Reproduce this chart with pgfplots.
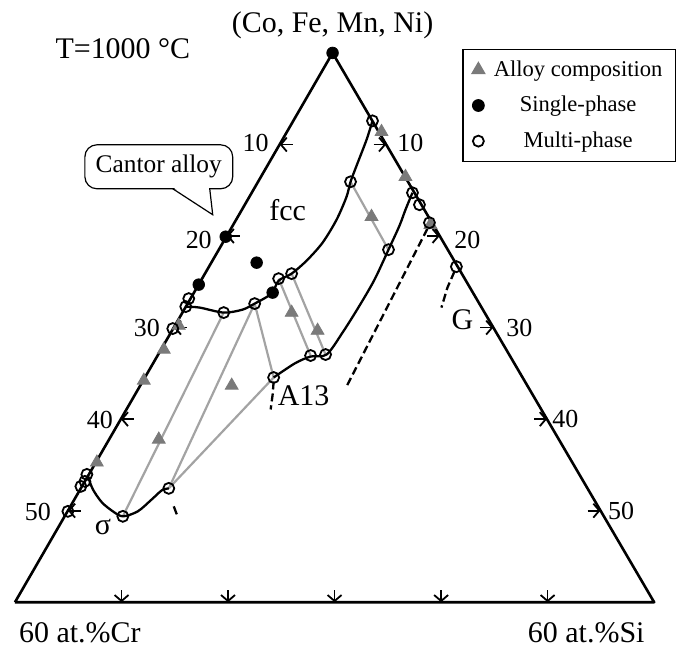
\documentclass[border=0pt]{standalone}
\usepackage{fontspec}
\setmainfont{Liberation Serif}
\usepackage{pgfplots}
\pgfplotsset{compat=1.18}
\usetikzlibrary{arrows.meta}
\definecolor{trigray}{gray}{0.48}
\definecolor{tiegray}{gray}{0.64}
\begin{document}
\begin{tikzpicture}
\begin{axis}[
  width=338pt, height=324pt, scale only axis,
  xmin=0, xmax=676, ymin=0, ymax=648, y dir=reverse,
  hide axis, clip=false,
  legend style={at={(axis cs:463,49)}, anchor=north west, draw=black, line width=0.6pt,
    font=\fontsize{11.3}{13}\selectfont, row sep=4.5pt, column sep=2.5pt, inner xsep=4.5pt, inner ysep=3.5pt},
  legend cell align=center,
  tickarrow/.style={forget plot, black, line width=0.9pt, -{Straight Barb[length=3pt,width=7pt]}},
]
% frame
\addplot[forget plot, black, line width=1.3pt, line join=round] coordinates {(15,603) (333,53) (655,603) (15,603)};
% left ticks
\addplot[tickarrow] coordinates {(293,144.7) (280,144.7)};
\addplot[tickarrow] coordinates {(240,236.3) (227,236.3)};
\addplot[tickarrow] coordinates {(187,328) (174,328)};
\addplot[tickarrow] coordinates {(134,419.7) (121,419.7)};
\addplot[tickarrow] coordinates {(81,511.3) (68,511.3)};
% right ticks
\addplot[tickarrow] coordinates {(374,144.7) (386.7,144.7)};
\addplot[tickarrow] coordinates {(427.5,236.3) (440.3,236.3)};
\addplot[tickarrow] coordinates {(481,328) (494,328)};
\addplot[tickarrow] coordinates {(535,419.7) (547.7,419.7)};
\addplot[tickarrow] coordinates {(588.5,511.3) (601.3,511.3)};
% bottom ticks
\addplot[tickarrow] coordinates {(121.7,591) (121.7,603)};
\addplot[tickarrow] coordinates {(228.3,591) (228.3,603)};
\addplot[tickarrow] coordinates {(335,591) (335,603)};
\addplot[tickarrow] coordinates {(441.7,591) (441.7,603)};
\addplot[tickarrow] coordinates {(548.3,591) (548.3,603)};
% tie lines
\addplot[forget plot, tiegray, line width=1.1pt] coordinates {(351,182) (389,250)};
\addplot[forget plot, tiegray, line width=1.1pt] coordinates {(279,279) (311,356)};
\addplot[forget plot, tiegray, line width=1.1pt] coordinates {(292,274) (326,355)};
\addplot[forget plot, tiegray, line width=1.1pt] coordinates {(255,304) (274,378)};
\addplot[forget plot, tiegray, line width=1.1pt] coordinates {(224,313) (123,517)};
\addplot[forget plot, tiegray, line width=1.1pt] coordinates {(255,304) (169,489)};
\addplot[forget plot, tiegray, line width=1.1pt] coordinates {(274,378) (169,489)};
% phase boundaries
\addplot[forget plot, black, line width=1.15pt, smooth] coordinates {
 (186,307) (200,308) (224,313) (243,310) (255,304) (266,298) (273,293) (279,281) (292,274)
 (307,261) (323,243) (337,220) (347,197) (351,182) (357,166) (367,140) (373,121)};
\addplot[forget plot, black, line width=1.15pt, smooth] coordinates {
 (413,193) (406,210) (400,226) (389,250) (375,280) (360,306) (343,333) (327,355)
 (311,357) (295,364) (274,378)};
\addplot[forget plot, black, line width=1.15pt, smooth] coordinates {
 (88,477) (93,490) (102,503) (113,512) (123,517) (138,512) (152,500) (162,491) (169,489)};
\addplot[forget plot, black, line width=1.15pt] coordinates {(174,507) (177,515)};
\addplot[forget plot, black, line width=1.15pt, dash pattern=on 4pt off 2pt] coordinates {(274,382) (273,395) (271,410)};
\addplot[forget plot, black, line width=1.15pt, dash pattern=on 4pt off 2pt] coordinates {(428,229) (347,387)};
\addplot[forget plot, black, line width=1.15pt, dash pattern=on 4pt off 2pt] coordinates {(455,272) (448,288) (442,308)};
% alloy compositions
\addplot[only marks, mark=triangle*, mark size=3.7pt, mark options={fill=trigray, draw=trigray}] coordinates {
 (382,132) (406,177) (372,217) (431,225) (292,313) (318,331) (179,326) (164,350)
 (144,381) (97,463) (159,440) (232,386)};
\addlegendentry{Alloy composition}
% single phase
\addplot[only marks, mark=*, mark size=2.9pt, mark options={fill=black, draw=black}] coordinates {
 (333,53) (226,237) (199,285) (257,263) (273,293)};
\addlegendentry{Single-phase}
% multi phase
\addplot[only marks, mark=o, mark size=2.75pt, mark options={fill=white, draw=black, line width=0.9pt}] coordinates {
 (373,121) (351,182) (413,193) (420,205) (430,223) (389,250) (457,267)
 (189,299) (186,307) (224,313) (255,304) (279,279) (292,274)
 (311,356) (326,355) (274,378) (173,329)
 (87,475) (85,482) (81,487) (68,512) (123,517) (169,489)};
\addlegendentry{Multi-phase}
% callout
\draw[line width=0.6pt, fill=white, rounded corners=6pt] (axis cs:85,145) rectangle (axis cs:233,189);
\fill[white] (axis cs:174,188) -- (axis cs:209,188) -- (axis cs:213,215) -- cycle;
\draw[line width=0.6pt] (axis cs:173,189) -- (axis cs:213,215) -- (axis cs:210,189);
\node[font=\fontsize{12.7}{14}\selectfont] at (axis cs:159,167) {Cantor alloy};
% texts
\node[font=\fontsize{15}{18}\selectfont] at (axis cs:333,25) {(Co, Fe, Mn, Ni)};
\node[font=\fontsize{15}{18}\selectfont] at (axis cs:123,49) {T=1000 °C};
\node[font=\fontsize{15}{18}\selectfont] at (axis cs:288,210) {fcc};
\node[font=\fontsize{15}{18}\selectfont] at (axis cs:304,396) {A13};
\node[font=\fontsize{15}{18}\selectfont] at (axis cs:463,320) {G};
\node[font=\fontsize{15}{18}\selectfont] at (axis cs:103,528) {σ};
\node[font=\fontsize{15}{18}\selectfont] at (axis cs:80,634) {60 at.\%Cr};
\node[font=\fontsize{15}{18}\selectfont] at (axis cs:587,634) {60 at.\%Si};
% tick labels
\node[font=\fontsize{13}{15}\selectfont] at (axis cs:256,143) {10};
\node[font=\fontsize{13}{15}\selectfont] at (axis cs:199,240) {20};
\node[font=\fontsize{13}{15}\selectfont] at (axis cs:147,328) {30};
\node[font=\fontsize{13}{15}\selectfont] at (axis cs:100,421) {40};
\node[font=\fontsize{13}{15}\selectfont] at (axis cs:38,513) {50};
\node[font=\fontsize{13}{15}\selectfont] at (axis cs:411,143) {10};
\node[font=\fontsize{13}{15}\selectfont] at (axis cs:468,240) {20};
\node[font=\fontsize{13}{15}\selectfont] at (axis cs:520,328) {30};
\node[font=\fontsize{13}{15}\selectfont] at (axis cs:566,420) {40};
\node[font=\fontsize{13}{15}\selectfont] at (axis cs:622,512) {50};
\path (axis cs:0,0) rectangle (axis cs:676,648);
\end{axis}
\end{tikzpicture}
\end{document}
